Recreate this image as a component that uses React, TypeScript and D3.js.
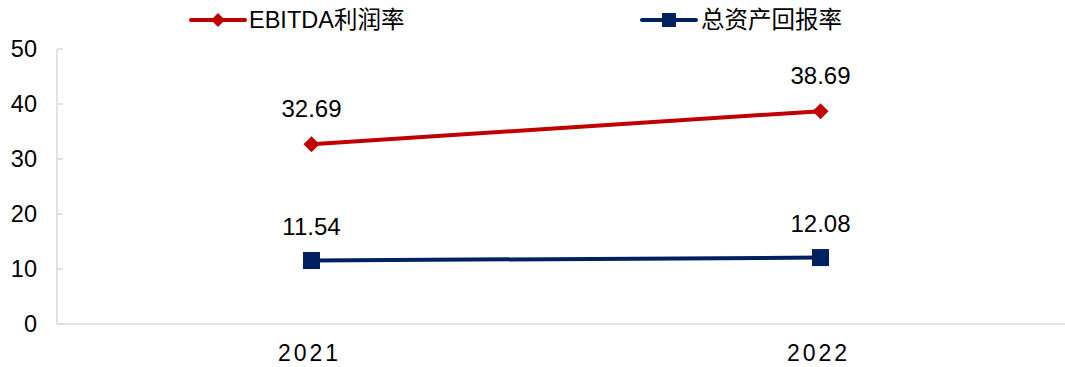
import React from "react";
import * as d3 from "d3";

const categories = ["2021", "2022"];
const ebitdaMargin = [32.69, 38.69];
const roa = [11.54, 12.08];
const yTicks = [0, 10, 20, 30, 40, 50];
const seriesNames = ["EBITDA利润率", "总资产回报率"];

const W = 1065;
const H = 367;
const FONT = "'Liberation Sans', Arial, 'Noto Sans CJK SC', sans-serif";

export default function App() {
  const x = d3.scaleBand<string>().domain(categories).range([57, 1075]);
  const y = d3.scaleLinear().domain([0, 50]).range([324, 49]);
  const cx = (c: string) => (x(c) as number) + x.bandwidth() / 2;

  const line = d3
    .line<number>()
    .x((_, i) => cx(categories[i]))
    .y((d) => y(d));

  const red = "#C00000";
  const navy = "#002060";
  const axisColor = "#d9d9d9";

  const diamond = (px: number, py: number, r: number) =>
    `M${px},${py - r}L${px + r},${py}L${px},${py + r}L${px - r},${py}Z`;

  return (
    <svg
      width={W}
      height={H}
      style={{ position: "absolute", left: 0, top: 0, background: "#fff" }}
      fontFamily={FONT}
    >
      {/* axes */}
      <line x1={57} x2={57} y1={y(50)} y2={y(0)} stroke={axisColor} strokeWidth={1.5} />
      <line x1={57} x2={W} y1={y(0)} y2={y(0)} stroke={axisColor} strokeWidth={1.5} />
      {yTicks.map((t) => (
        <g key={t}>
          <line x1={57} x2={63} y1={y(t)} y2={y(t)} stroke={axisColor} strokeWidth={1.5} />
          <text
            x={37}
            y={y(t)}
            textAnchor="end"
            dominantBaseline="central"
            fontSize={23.5}
            fill="#000"
          >
            {t}
          </text>
        </g>
      ))}
      {categories.map((c) => (
        <text
          key={c}
          x={cx(c) - 2}
          y={361}
          textAnchor="middle"
          fontSize={23}
          letterSpacing={3}
          fill="#000"
        >
          {c}
        </text>
      ))}

      {/* series lines */}
      <path d={line(ebitdaMargin) || ""} fill="none" stroke={red} strokeWidth={4} />
      <path d={line(roa) || ""} fill="none" stroke={navy} strokeWidth={4} />

      {ebitdaMargin.map((v, i) => (
        <g key={"e" + i}>
          <path d={diamond(cx(categories[i]), y(v), 8)} fill={red} />
          <text
            x={cx(categories[i])}
            y={y(v) - 27}
            textAnchor="middle"
            fontSize={24}
            fill="#000"
          >
            {v.toFixed(2)}
          </text>
        </g>
      ))}
      {roa.map((v, i) => (
        <g key={"r" + i}>
          <rect
            x={cx(categories[i]) - 8.5}
            y={y(v) - 8.5}
            width={17}
            height={17}
            fill={navy}
          />
          <text
            x={cx(categories[i])}
            y={y(v) - 26}
            textAnchor="middle"
            fontSize={24}
            fill="#000"
          >
            {v.toFixed(2)}
          </text>
        </g>
      ))}

      {/* legend */}
      <g>
        <line x1={191} x2={245} y1={20} y2={20} stroke={red} strokeWidth={4} strokeLinecap="round" />
        <path d={diamond(218, 20, 7)} fill={red} />
        <text x={249} y={20} dominantBaseline="central" fontSize={23.5} fill="#000">
          {seriesNames[0]}
        </text>
        <line x1={642} x2={696} y1={20} y2={20} stroke={navy} strokeWidth={4} strokeLinecap="round" />
        <rect x={662} y={13} width={14} height={14} fill={navy} />
        <text x={701} y={20} dominantBaseline="central" fontSize={23.5} fill="#000">
          {seriesNames[1]}
        </text>
      </g>
    </svg>
  );
}
